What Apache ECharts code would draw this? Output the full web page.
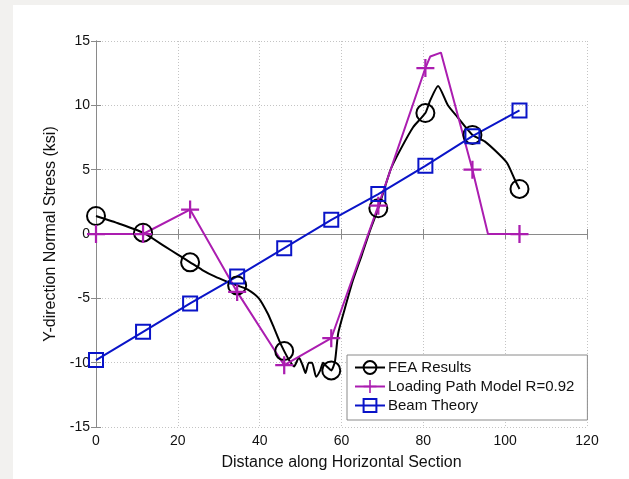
<!DOCTYPE html>
<html>
<head>
<meta charset="utf-8">
<script src="https://cdn.jsdelivr.net/npm/echarts@6/dist/echarts.min.js"></script>
<style>
  html, body { margin: 0; padding: 0; background: #f2f1ef; }
  #main { position: absolute; left: 13px; top: 5px; width: 616px; height: 474px; background: #fff; }
</style>
</head>
<body>
<div id="main"></div>
<script>
// sample positions along the section (same for all three curves)
const xPos = [0, 11.5, 23, 34.5, 46, 57.5, 69, 80.5, 92, 103.5]
const feaY = [1.4, 0.1, -2.2, -4.0, -9.1, -10.6, 2.0, 9.4, 7.7, 3.5]
const loadY = [0, 0, 1.9, -4.5, -10.2, -8.1, 2.2, 12.9, 5.0, 0]
const beamY = [-9.8, -7.6, -5.4, -3.3, -1.1, 1.1, 3.1, 5.3, 7.6, 9.6]
// points of the drawn curves between the markers
const feaMid = [
  [5.7, 0.8], [17, -1.0], [20, -1.6], [26, -2.8], [29, -3.3], [32, -3.7],
  [37, -4.3], [39.8, -5.0], [42, -6.2], [43.5, -7.3], [44.8, -8.3],
  [47.2, -9.8], [48.4, -10.3], [49.6, -9.6], [50.5, -10.2], [51.2, -10.8], [52.0, -10.0],
  [52.8, -10.0], [53.8, -11.1], [54.8, -10.6], [55.5, -10.0], [56.4, -10.3],
  [58.4, -9.9], [59.2, -7.7], [60.9, -5.7], [62.8, -3.6], [65, -1.6], [67.0, 0.3],
  [72, 5.0], [74.3, 6.5], [77.5, 8.3], [81.7, 10.4], [83.6, 11.5], [86, 10.0], [88.3, 9.1],
  [95, 7.2], [98.5, 6.2], [100.5, 5.5], [102.4, 4.2]
]
const loadMid = [[81.7, 13.8], [84.3, 14.1], [95.8, 0]]

const MAGENTA = '#ab1db0'
const BLUE = '#0a14c8'
const AXIS = '#8a8a8a'
const PLUS = 'path://M7,0H9V7H16V9H9V16H7V9H0V7H7Z'

function buildCurve(ys, mids) {
  let pts = xPos.map((x, i) => ({ value: [x, ys[i]] }))
  mids.forEach(p => pts.push({ value: p, symbol: 'none' }))
  pts.sort((a, b) => a.value[0] - b.value[0])
  return pts
}

let myChart = echarts.init(document.getElementById('main'))

const axisCommon = {
  axisLine: { show: true, lineStyle: { color: AXIS, width: 1 } },
  axisTick: { show: true, inside: true, length: 5, lineStyle: { color: AXIS } }
}

myChart.setOption({
  animation: false,
  textStyle: { fontFamily: 'Liberation Sans, Arial, sans-serif' },
  grid: { left: 83, right: 42, top: 36, bottom: 52 },
  legend: {
    orient: 'vertical',
    left: 334, top: 350,
    padding: [5, 13, 7, 7],
    itemWidth: 30, itemHeight: 16, itemGap: 4,
    backgroundColor: '#fff',
    borderColor: AXIS, borderWidth: 1,
    textStyle: { fontSize: 15, color: '#111', padding: [0, 0, 0, -2] },
    data: ['FEA Results', 'Loading Path Model R=0.92', 'Beam Theory']
  },
  xAxis: [
    Object.assign({
      type: 'value', min: 0, max: 120, interval: 20,
      axisLabel: { fontSize: 14, color: '#111', margin: 7 },
      splitLine: { show: true, lineStyle: { color: '#c4c4c4', type: [1, 2] } },
      name: 'Distance along Horizontal Section',
      nameLocation: 'middle', nameGap: 28,
      nameTextStyle: { fontSize: 16, color: '#111' }
    }, axisCommon),
    Object.assign({
      type: 'value', min: 0, max: 120, interval: 20, position: 'top',
      axisLabel: { show: false }, splitLine: { show: false }
    }, axisCommon)
  ],
  yAxis: [
    Object.assign({
      type: 'value', min: -15, max: 15, interval: 5,
      axisLabel: { fontSize: 14, color: '#111', margin: 6 },
      splitLine: { show: true, lineStyle: { color: '#c4c4c4', type: [1, 2] } },
      name: 'Y-direction Normal Stress (ksi)',
      nameLocation: 'middle', nameGap: 31,
      nameTextStyle: { fontSize: 16, color: '#111' }
    }, axisCommon),
    Object.assign({
      type: 'value', min: -15, max: 15, interval: 5, position: 'right',
      axisLabel: { show: false }, splitLine: { show: false }
    }, axisCommon)
  ],
  series: [
    {
      name: 'FEA Results',
      type: 'line',
      data: buildCurve(feaY, feaMid),
      smooth: 0.2,
      symbol: 'circle', symbolSize: 18,
      lineStyle: { color: '#000', width: 2 },
      itemStyle: { color: 'rgba(0,0,0,0)', borderColor: '#000', borderWidth: 2 }
    },
    {
      name: 'Loading Path Model R=0.92',
      type: 'line',
      data: buildCurve(loadY, loadMid),
      symbol: PLUS, symbolSize: 18,
      lineStyle: { color: MAGENTA, width: 2 },
      itemStyle: { color: MAGENTA }
    },
    {
      name: 'Beam Theory',
      type: 'line',
      data: buildCurve(beamY, []),
      symbol: 'rect', symbolSize: 14,
      lineStyle: { color: BLUE, width: 2 },
      itemStyle: { color: 'rgba(0,0,0,0)', borderColor: BLUE, borderWidth: 2 }
    }
  ]
})
</script>
</body>
</html>
